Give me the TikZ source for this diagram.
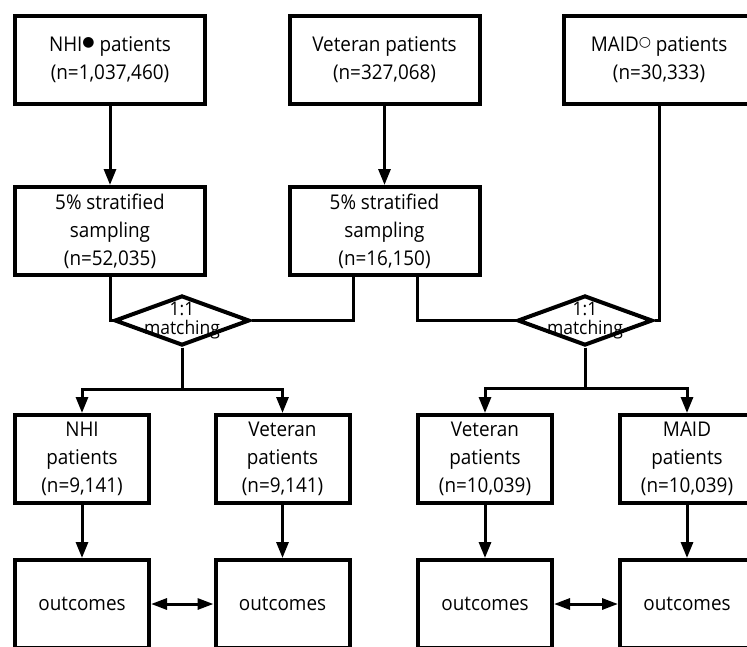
\documentclass[tikz,border=0pt]{standalone}
\usepackage{fontspec}
\setmainfont[FakeStretch=0.93]{Open Sans}
\newfontfamily\symfont{DejaVu Sans}
\usetikzlibrary{shapes.geometric,arrows.meta}
\newcommand\supmark[1]{\raisebox{5.5pt}{\fontsize{14}{14}\symfont #1}}
\begin{document}
\begin{tikzpicture}[x=1pt,y=-1pt,
  box/.style={draw,line width=4pt,minimum width=190pt,minimum height=88pt,inner sep=0pt,align=center,font=\fontsize{20.3}{28}\selectfont},
  sbox/.style={box,minimum width=134pt},
  dmd/.style={draw,diamond,line width=4pt,minimum width=135pt,minimum height=50pt,inner sep=0pt},
  dtext/.style={align=center,font=\fontsize{18.8}{19}\selectfont,inner sep=0pt},
  conn/.style={line width=3pt},
  arr/.style={conn,-{Triangle[width=12pt,length=16pt]}},
  darr/.style={conn,{Triangle[width=11pt,length=16pt]}-{Triangle[width=11pt,length=16pt]}},
]
\useasboundingbox (0,0) rectangle (747,646);
\clip (0,0) rectangle (747,646);
% row 1
\node[box] (nhi)  at (110,60)   {NHI\supmark{●} patients\\(n=1,037,460)};
\node[box] (vet)  at (384.5,60) {Veteran patients\\(n=327,068)};
\node[box] (maid) at (659,60)   {MAID\supmark{○} patients\\(n=30,333)};
% row 2
\node[box] (s1) at (110,231)   {5\% stratified\\sampling\\(n=52,035)};
\node[box] (s2) at (384.5,231) {5\% stratified\\sampling\\(n=16,150)};
% diamonds
\node[dmd] (d1) at (182,320.5) {};
\node[dmd] (d2) at (585,320.5) {};
\node[dtext] (d1t) at (d1) {1:1\\matching};
\node[dtext] (d2t) at (d2) {1:1\\matching};
% row 3
\node[sbox] (a3) at (82,459)  {NHI\\patients\\(n=9,141)};
\node[sbox] (b3) at (282.5,459) {Veteran\\patients\\(n=9,141)};
\node[sbox] (c3) at (485,459) {Veteran\\patients\\(n=10,039)};
\node[sbox] (e3) at (687,459) {MAID\\patients\\(n=10,039)};
% row 4
\node[sbox] (a4) at (82,604)  {outcomes};
\node[sbox] (b4) at (282.5,604) {outcomes};
\node[sbox] (c4) at (485,604) {outcomes};
\node[sbox] (e4) at (687,604) {outcomes};
% connectors
\draw[arr] (nhi) -- (s1);
\draw[arr] (vet) -- (s2);
\draw[conn] (s1.south) |- (d1.west);
\draw[conn] (d1.east) -| ([xshift=-31.5pt]s2.south);
\draw[conn] (d2.west) -| ([xshift=32.5pt]s2.south);
\draw[conn] (d2.east) -| (maid.south);
\draw[arr] (d1.south) -- ++(0,41.5) -| (a3.north);
\draw[arr] (d1.south) -- ++(0,41.5) -| (b3.north);
\draw[arr] (d2.south) -- ++(0,41) -| (c3.north);
\draw[arr] (d2.south) -- ++(0,41) -| (e3.north);
\draw[arr] (a3) -- (a4);
\draw[arr] (b3) -- (b4);
\draw[arr] (c3) -- (c4);
\draw[arr] (e3) -- (e4);
\draw[darr] (a4) -- (b4);
\draw[darr] (c4) -- (e4);
\end{tikzpicture}
\end{document}
